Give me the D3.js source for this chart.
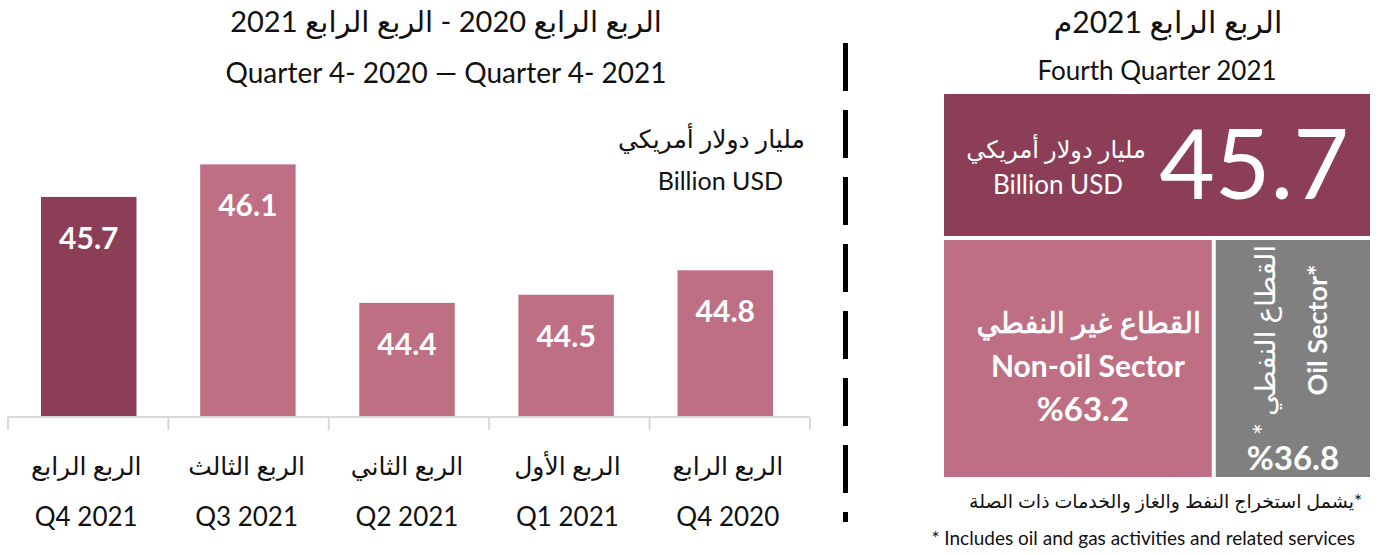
<!DOCTYPE html>
<html>
<head>
<meta charset="utf-8">
<script src="https://cdn.jsdelivr.net/npm/d3@7"></script>
<style>
  body { margin: 0; background: #fff; }
  svg { font-family: Lato, "DejaVu Sans", sans-serif; }
</style>
</head>
<body>
<svg id="chart" width="1383" height="555"></svg>
<script>
// bar chart data (left is the latest quarter, as in the picture)
const quartersAr = ["الربع الرابع", "الربع الثالث", "الربع الثاني", "الربع الأول", "الربع الرابع"];
const quartersEn = ["Q4 2021", "Q3 2021", "Q2 2021", "Q1 2021", "Q4 2020"];
const gdpValues = [45.7, 46.1, 44.4, 44.5, 44.8];

// right panel data
const latestTotal = 45.7;
const sectorKeys = ["nonoil", "oil"];
const sectorShares = [63.2, 36.8];
const sectorNamesAr = ["القطاع غير النفطي", "القطاع النفطي"];
const sectorNamesEn = ["Non-oil Sector", "Oil Sector"];

const darkColor = "#8c3e57";
const pinkColor = "#bf6f84";
const greyColor = "#808080";

const svg = d3.select("#chart");

// ---- left bar chart ----
const axisLeft = 8, axisRight = 810, baseY = 417;

const x = d3.scaleBand()
  .domain(quartersEn)
  .range([axisLeft, axisRight])
  .paddingInner(0.4)
  .paddingOuter(0.22);

const y = d3.scaleLinear()
  .domain([43, 46.5])
  .range([baseY, baseY - 3.5 * 81.5]);

const g = svg.append("g");

g.selectAll("rect.bar")
  .data(gdpValues)
  .enter()
  .append("rect")
  .attr("class", "bar")
  .attr("x", (d, i) => x(quartersEn[i]) - 2)
  .attr("width", x.bandwidth())
  .attr("y", d => y(d))
  .attr("height", d => y(43) - y(d))
  .attr("fill", (d, i) => i === 0 ? darkColor : pinkColor);

g.selectAll("text.val")
  .data(gdpValues)
  .enter()
  .append("text")
  .attr("class", "val")
  .attr("x", (d, i) => x(quartersEn[i]) - 2 + x.bandwidth() / 2)
  .attr("y", d => y(d) + 52)
  .attr("text-anchor", "middle")
  .attr("fill", "#fff")
  .attr("font-weight", "bold")
  .attr("font-size", 30)
  .text(d => d.toFixed(1));

// axis line with ticks between the categories
const slot = (axisRight - axisLeft) / quartersEn.length;
const axisG = g.append("g").attr("transform", "translate(0," + baseY + ")");
axisG.append("line")
  .attr("x1", axisLeft).attr("x2", axisRight)
  .attr("stroke", "#d9d9d9").attr("stroke-width", 2);
axisG.selectAll("line.tick")
  .data(d3.range(quartersEn.length + 1))
  .enter()
  .append("line")
  .attr("class", "tick")
  .attr("x1", i => axisLeft + i * slot).attr("x2", i => axisLeft + i * slot)
  .attr("y1", 0).attr("y2", 13)
  .attr("stroke", "#d9d9d9").attr("stroke-width", 2);

g.selectAll("text.catAr")
  .data(quartersAr)
  .enter()
  .append("text")
  .attr("class", "catAr")
  .attr("x", (d, i) => axisLeft + (i + 0.5) * slot - 2)
  .attr("y", 475)
  .attr("text-anchor", "middle")
  .attr("font-size", 25)
  .attr("fill", "#111")
  .text(d => d);

g.selectAll("text.catEn")
  .data(quartersEn)
  .enter()
  .append("text")
  .attr("class", "catEn")
  .attr("x", (d, i) => axisLeft + (i + 0.5) * slot - 2)
  .attr("y", 526)
  .attr("text-anchor", "middle")
  .attr("font-size", 26)
  .attr("fill", "#111")
  .text(d => d);

// titles
svg.append("text").attr("x", 446).attr("y", 32).attr("text-anchor", "middle")
  .attr("font-size", 29).attr("fill", "#111")
  .text("الربع الرابع 2020 - الربع الرابع 2021");
svg.append("text").attr("x", 446).attr("y", 83).attr("text-anchor", "middle")
  .attr("font-size", 28).attr("fill", "#111")
  .text("Quarter 4- 2020 — Quarter 4- 2021");
svg.append("text").attr("x", 805).attr("y", 148).attr("text-anchor", "end")
  .attr("font-size", 25).attr("fill", "#111")
  .text("مليار دولار أمريكي");
svg.append("text").attr("x", 783).attr("y", 190).attr("text-anchor", "end")
  .attr("font-size", 25).attr("fill", "#111")
  .text("Billion USD");

// dashed divider
svg.append("line")
  .attr("x1", 845.5).attr("x2", 845.5)
  .attr("y1", 43).attr("y2", 522)
  .attr("stroke", "#000").attr("stroke-width", 5)
  .attr("stroke-dasharray", "48 19");

// ---- right panel ----
const px0 = 944, px1 = 1370;
svg.append("text").attr("x", 1168).attr("y", 33).attr("text-anchor", "middle")
  .attr("font-size", 30).attr("fill", "#111")
  .text("الربع الرابع 2021م");
svg.append("text").attr("x", 1157).attr("y", 80).attr("text-anchor", "middle")
  .attr("font-size", 26).attr("fill", "#111")
  .text("Fourth Quarter 2021");

svg.append("rect")
  .attr("x", px0).attr("y", 94).attr("width", px1 - px0).attr("height", 142)
  .attr("fill", darkColor);
svg.append("text").attr("x", 1254).attr("y", 199).attr("text-anchor", "middle")
  .attr("font-size", 96).attr("fill", "#fff")
  .text(latestTotal.toFixed(1));
svg.append("text").attr("x", 1056).attr("y", 158).attr("text-anchor", "middle")
  .attr("font-size", 24).attr("fill", "#fff")
  .text("مليار دولار أمريكي");
svg.append("text").attr("x", 1058).attr("y", 194).attr("text-anchor", "middle")
  .attr("font-size", 26).attr("fill", "#fff")
  .text("Billion USD");

// split of the lower strip by sector share
const gap = 4;
const sx = d3.scaleLinear().domain([0, 100]).range([px0, px1 + gap]);
let acc = 0;
const cells = sectorShares.map((s, i) => {
  const c = {key: sectorKeys[i], share: s, x0: sx(acc), x1: sx(acc + s) - gap};
  acc += s;
  return c;
});

svg.selectAll("rect.cell")
  .data(cells)
  .enter()
  .append("rect")
  .attr("class", "cell")
  .attr("x", d => d.x0)
  .attr("y", 240)
  .attr("width", d => d.x1 - d.x0)
  .attr("height", 237)
  .attr("fill", (d, i) => i === 0 ? pinkColor : greyColor);

// non-oil cell texts
const c0 = cells[0], cx0 = (c0.x0 + c0.x1) / 2 + 10;
svg.append("text").attr("x", cx0 + 1).attr("y", 333).attr("text-anchor", "middle")
  .attr("font-size", 29).attr("fill", "#fff")
  .attr("stroke", "#fff").attr("stroke-width", 0.7)
  .text(sectorNamesAr[0]);
svg.append("text").attr("x", cx0).attr("y", 377).attr("text-anchor", "middle")
  .attr("font-size", 30).attr("font-weight", "bold").attr("fill", "#fff")
  .text(sectorNamesEn[0]);
svg.append("text").attr("x", cx0 - 5).attr("y", 421).attr("text-anchor", "middle")
  .attr("font-size", 33).attr("font-weight", "bold").attr("fill", "#fff")
  .text("%" + sectorShares[0].toFixed(1));

// oil cell texts (rotated)
const c1 = cells[1];
svg.append("text")
  .attr("transform", "translate(1275,340) rotate(-90)")
  .attr("text-anchor", "middle")
  .attr("font-size", 28).attr("fill", "#fff")
  .text("* " + sectorNamesAr[1]);
svg.append("text")
  .attr("transform", "translate(1327,330) rotate(-90)")
  .attr("text-anchor", "middle")
  .attr("font-size", 27).attr("font-weight", "bold").attr("fill", "#fff")
  .text(sectorNamesEn[1] + "*");
svg.append("text").attr("x", (c1.x0 + c1.x1) / 2).attr("y", 470).attr("text-anchor", "middle")
  .attr("font-size", 33).attr("font-weight", "bold").attr("fill", "#fff")
  .text("%" + sectorShares[1].toFixed(1));

// footnotes
svg.append("text").attr("x", 1362).attr("y", 508).attr("text-anchor", "end")
  .attr("font-size", 19).attr("fill", "#111")
  .text("يشمل استخراج النفط والغاز والخدمات ذات الصلة*");
svg.append("text").attr("x", 1355).attr("y", 545).attr("text-anchor", "end")
  .attr("font-size", 19).attr("fill", "#111")
  .text("* Includes oil and gas activities and related services");
</script>
</body>
</html>
